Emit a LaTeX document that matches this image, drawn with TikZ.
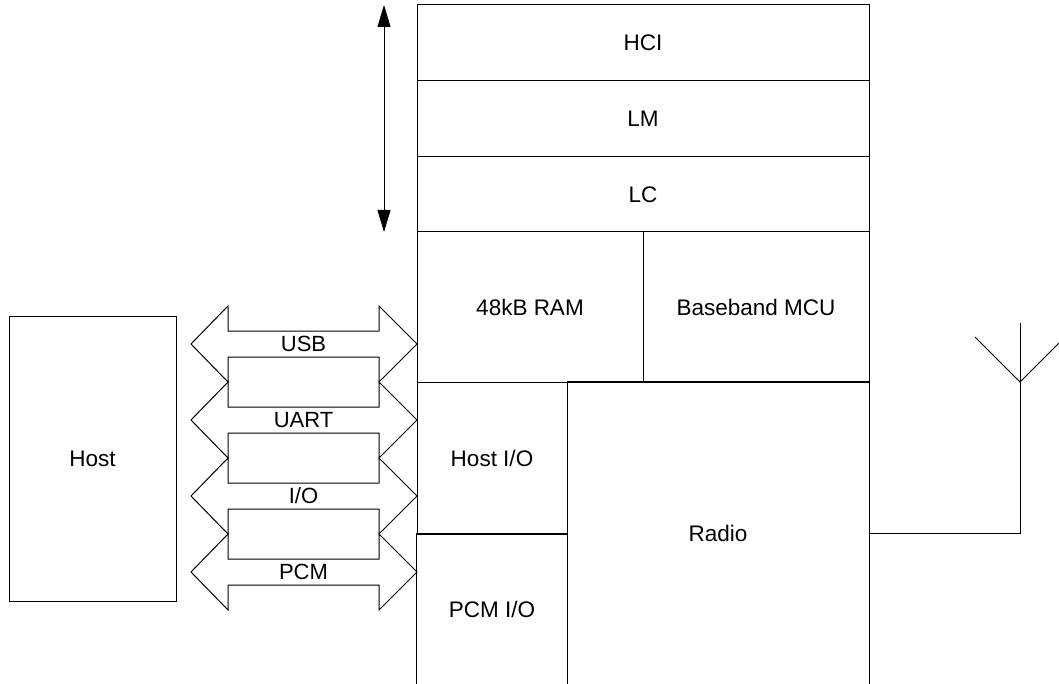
\documentclass[tikz,border=0pt]{standalone}
\usepackage{fontspec}
\setmainfont{Liberation Sans}
\usetikzlibrary{arrows.meta}

\tikzset{
  blk/.style={draw, line width=1pt, inner sep=0pt, font=\fontsize{22.5}{26}\selectfont},
  openblk/.style={blk, draw=none},
  bus/.style={draw, line width=1pt},
  buslabel/.style={inner sep=0pt, font=\fontsize{22}{26}\selectfont}
}

\begin{document}
\begin{tikzpicture}[x=1pt, y=-1pt]
\useasboundingbox (0,0) rectangle (1059,684);

% protocol stack
\node[blk, minimum width=452, minimum height=76] (hci) at (643,43) {HCI};
\node[blk, minimum width=452, minimum height=76] (lm) at (643,119) {LM};
\node[blk, minimum width=452, minimum height=75] (lc) at (643,194.5) {LC};
\node[blk, minimum width=226, minimum height=150] (ram) at (530,307) {48kB RAM};
\node[blk, minimum width=226, minimum height=150] (mcu) at (756,307) {Baseband MCU};
\node[blk, minimum width=150, minimum height=152] (hostio) at (492,458) {Host I/O};
\node[openblk, minimum width=150, minimum height=150] (pcmio) at (492,609) {PCM I/O};
\node[openblk, minimum width=302, minimum height=302] (radio) at (718,533) {Radio};
\draw[line width=1pt] (pcmio.south west) -- (pcmio.north west) -- (pcmio.north east) -- (pcmio.south east);
\draw[line width=1pt] (radio.north west) -- (radio.north east) -- (radio.south east);

% host
\node[blk, minimum width=167, minimum height=285] (host) at (92.5,458.5) {Host};

% software / hardware arrow
\coordinate (stacktop) at (384,5);
\coordinate (stackbot) at (384,232);
\draw[line width=1pt, {Triangle[length=22pt,width=13pt]}-{Triangle[length=22pt,width=13pt]}] (stacktop) -- (stackbot);

% host buses
\foreach \name/\label/\c in {usb/USB/344, uart/UART/420, io/{I/O}/496, pcm/PCM/572}{
  \draw[bus] (191,\c) -- (228,\c-38) -- (228,\c-13) -- (379,\c-13) -- (379,\c-38)
    -- (417,\c) -- (379,\c+38) -- (379,\c+13) -- (228,\c+13) -- (228,\c+38) -- cycle;
  \node[buslabel] (bus-\name) at (303.5,\c) {\label};
}

% antenna
\coordinate (antbase) at (1020,533);
\coordinate (antfork) at (1020,382);
\coordinate (anttip) at (1020,323);
\coordinate (antleft) at (975,337);
\coordinate (antright) at (1065,337);
\draw[line width=1pt] (radio.east) -- (antbase) -- (anttip);
\draw[line width=1pt] (antleft) -- (antfork) -- (antright);

\end{tikzpicture}
\end{document}
